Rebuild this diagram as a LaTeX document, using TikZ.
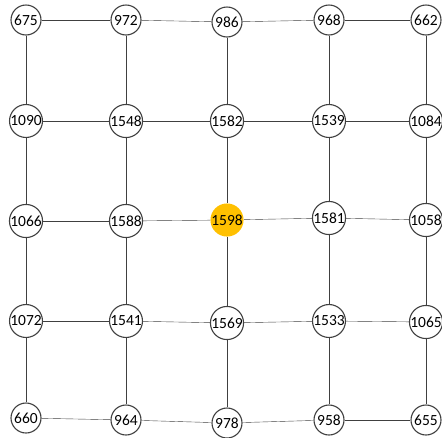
\documentclass[tikz,border=0pt]{standalone}
\usepackage{fontspec}
\setmainfont{Carlito}
\usetikzlibrary{backgrounds}
\definecolor{cgold}{HTML}{FFC000}
\definecolor{cline}{HTML}{404040}
\tikzset{
  every picture/.style={x=1pt, y=-1pt, line width=1.3pt},
  cell/.style={circle, draw=cline, fill=white, line width=1.1pt, minimum size=30pt, inner sep=0pt, font=\fontsize{15.5}{15.5}\selectfont},
  peak/.style={cell, draw=none, fill=cgold},
  link/.style={draw=cline},
}
\begin{document}
\begin{tikzpicture}
  \useasboundingbox (0,0) rectangle (442,437);
  % grid values, row by row
  \foreach \x/\y/\t/\n in {26/20/675/a1, 126/20/972/a2, 227/22/986/a3, 329/20/968/a4, 426/20/662/a5,
                           26/121/1090/b1, 126/121/1548/b2, 227/121/1582/b3, 329/121/1539/b4, 426/121/1084/b5,
                           26/221/1066/c1, 126/221/1588/c2, 329/218/1581/c4, 426/220/1058/c5,
                           26/321/1072/d1, 126/321/1541/d2, 227/323/1569/d3, 329/321/1533/d4, 426/322/1065/d5,
                           26/418/660/e1, 126/420/964/e2, 227/423/978/e3, 329/420/958/e4, 426/420/655/e5} {
    \node[cell] (\n) at (\x,\y) {\t};
  }
  \node[peak] (c3) at (227,220) {1598};
  % connectors behind the circles
  \begin{scope}[on background layer]
    \foreach \r in {a,b,c,d,e} {
      \foreach \i/\j in {1/2, 2/3, 3/4, 4/5} {
        \draw[link] (\r\i) -- (\r\j);
      }
    }
    \foreach \c in {1,...,5} {
      \foreach \p/\q in {a/b, b/c, c/d, d/e} {
        \draw[link] (\p\c) -- (\q\c);
      }
    }
  \end{scope}
\end{tikzpicture}
\end{document}
